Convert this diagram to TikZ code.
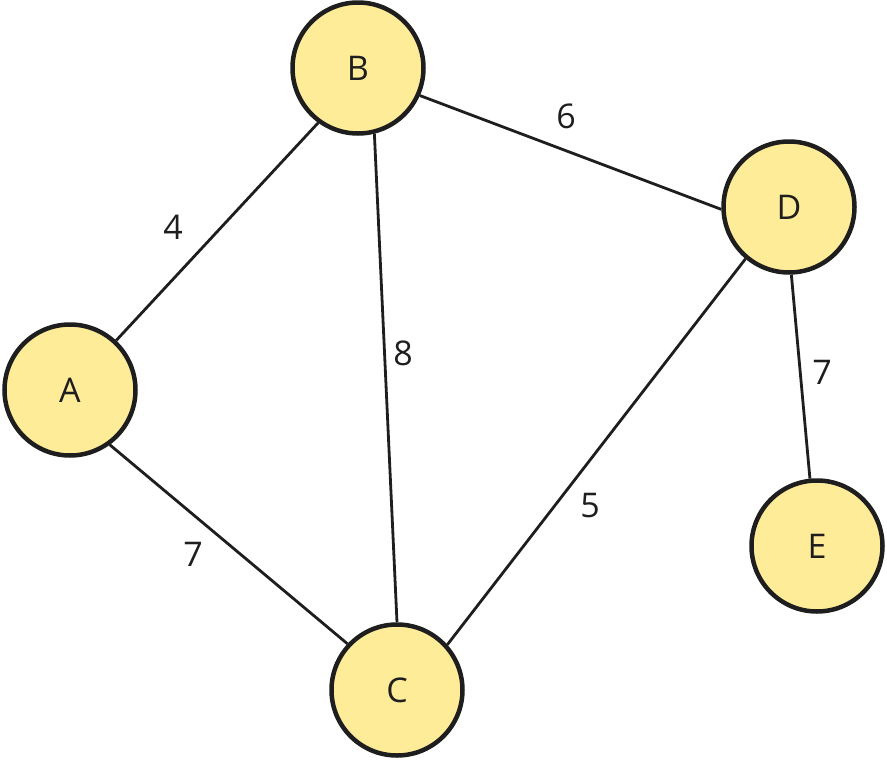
\documentclass[tikz,border=0pt]{standalone}
\usepackage{fontspec}
\setmainfont{Open Sans}
\definecolor{nodefill}{HTML}{FFEC99}
\definecolor{ink}{HTML}{1E1E1E}
\begin{document}
\begin{tikzpicture}[x=1pt,y=-1pt,
  vertex/.style={circle,draw=ink,fill=nodefill,line width=4.5pt,minimum size=131pt,inner sep=0pt,font=\fontsize{34}{40}\selectfont,text=ink},
  edge/.style={draw=ink,line width=2.8pt},
  wlabel/.style={font=\fontsize{34}{40}\selectfont,text=ink,inner sep=0pt}]
\useasboundingbox (0,0) rectangle (887,763);
\node[vertex] (B) at (358,68) {B};
\node[vertex] (A) at (70,390) {A};
\node[vertex] (C) at (397,690) {C};
\node[vertex] (D) at (789,207) {D};
\node[vertex] (E) at (817,546) {E};
\draw[edge] (A.47) -- (B.-126);
\draw[edge] (B.-76) -- (C.90);
\draw[edge] (B.-24) -- (D.182);
\draw[edge] (D.-130) -- (C.42);
\draw[edge] (D.-88) -- (E.96);
\draw[edge] (A.-54) -- (C.137);
\node[wlabel] (l4) at (173,227) {4};
\node[wlabel] (l8) at (403,353) {8};
\node[wlabel] (l6) at (566,116) {6};
\node[wlabel] (l5) at (590,506) {5};
\node[wlabel] (l7a) at (822,372) {7};
\node[wlabel] (l7b) at (193,554) {7};
\end{tikzpicture}
\end{document}
